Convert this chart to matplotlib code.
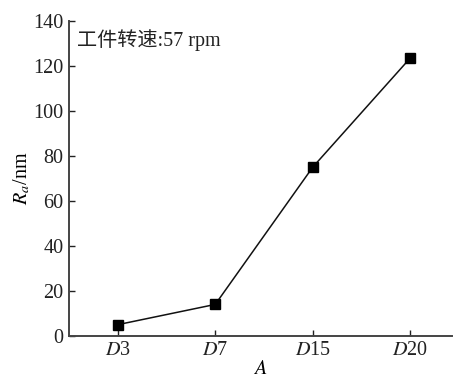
import matplotlib
matplotlib.use("Agg")
import matplotlib.pyplot as plt

categories = ["D3", "D7", "D15", "D20"]
ra_values = [5, 14, 75, 123.5]
y_ticks = [0, 20, 40, 60, 80, 100, 120, 140]

plt.rcParams['font.family'] = ['Liberation Serif', 'Noto Sans CJK SC']
plt.rcParams['mathtext.fontset'] = 'stix'

fig = plt.figure(figsize=(4.54, 3.80), dpi=100)
ax = fig.add_axes([0.152, 0.116, 0.844, 0.829])

x = list(range(len(categories)))
ax.plot(x, ra_values, color='#111111', lw=1.1, marker='s', markersize=7.5,
        markerfacecolor='black', markeredgecolor='black')

ax.set_xlim(-0.5, 3.43)
ax.set_ylim(0, 140)
ax.set_yticks(y_ticks)
ax.set_xticks(x)
ax.set_xticklabels(["$D$3", "$D$7", "$D$15", "$D$20"])
for s in ['top', 'right']:
    ax.spines[s].set_visible(False)
for s in ['left', 'bottom']:
    ax.spines[s].set_linewidth(1.4)
    ax.spines[s].set_color('#444444')
ax.tick_params(direction='in', length=4, width=1, labelsize=14.5, colors='#222222', pad=4)

ax.set_ylabel("$R_a$/nm", fontsize=14.5, labelpad=1)
ax.set_xlabel("$A$", fontsize=14.5, labelpad=0)
ax.text(0.022, 0.975, "工件转速:57 rpm", transform=ax.transAxes, fontsize=14.5,
        va='top', ha='left', family=['Liberation Serif', 'Noto Sans CJK SC'], color='#222222')

fig.savefig("out.png", dpi=100)
